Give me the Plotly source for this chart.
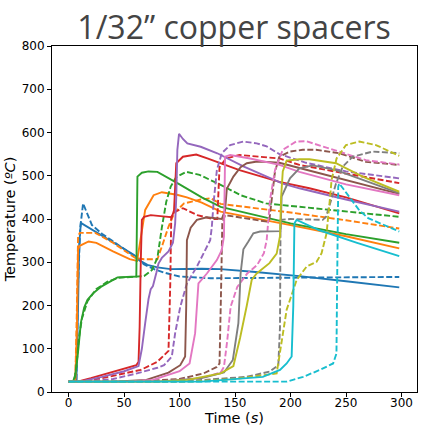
import plotly.graph_objects as go

# ---- data (time in s, temperature in degC) ----
t_blue_s = [0, 7, 8.5, 9.5, 11, 30, 45, 59, 65, 71, 80, 92, 120, 137, 166, 208, 250, 298]
T_blue_s = [24, 26, 200, 340, 391, 362, 339, 317, 303, 294, 288, 284, 285, 284, 278, 268, 256, 242]
t_blue_d = [0, 7, 8.5, 10.5, 13, 17, 21, 30, 45, 59, 68, 78, 86, 100, 128, 200, 298]
T_blue_d = [24, 26, 250, 380, 436, 410, 386, 366, 340, 315, 295, 283, 276, 267, 263, 265, 266]

t_orange_s = [0, 6, 7.5, 8.5, 10, 18, 25, 40, 55, 61.7, 64.7, 69, 76.6, 84, 97.6, 106.6, 120, 137, 200, 250, 298]
T_orange_s = [24, 26, 150, 330, 338, 348, 345, 325, 307, 303, 351, 421, 455, 462, 456, 450, 438, 417, 386, 360, 332]
t_orange_d = [0, 6, 7.5, 8.5, 10, 24, 40, 60, 68, 80, 84, 90, 95, 104, 119, 128, 137, 200, 250, 298]
T_orange_d = [24, 26, 200, 360, 368, 368, 345, 310, 307, 307, 336, 382, 413, 436, 445, 448, 435, 415, 397, 378]

t_green_s = [0, 4, 6, 8, 11, 14, 17, 22, 29, 39, 44, 61, 61.5, 62, 66, 72, 80, 90, 100, 120, 137, 200, 250, 298]
T_green_s = [24, 24, 40, 80, 160, 195, 213, 228, 243, 259, 265, 267, 400, 498, 507, 510, 509, 495, 480, 450, 428, 390, 365, 345]
t_green_d = [0, 5, 7, 9, 12, 17, 25, 35, 45, 62, 68, 75, 80, 84, 88, 92, 97, 106, 118, 137, 155, 178, 208, 250, 298]
T_green_d = [24, 24, 60, 120, 170, 210, 238, 255, 264, 266, 268, 282, 310, 380, 440, 475, 497, 509, 502, 479, 455, 436, 428, 418, 405]

t_red_s = [0, 8, 20, 40, 55, 61, 63, 64, 65, 66, 68, 74, 85, 93, 95, 96, 97, 103, 115, 125, 154, 190, 217, 250, 298]
T_red_s = [24, 24, 32, 46, 56, 62, 70, 150, 300, 398, 405, 409, 406, 404, 420, 500, 529, 544, 549, 540, 513, 486, 471, 450, 413]
t_red_d = [0, 10, 30, 50, 65, 80, 87, 90, 91.6, 92.5, 96, 103, 116, 130, 134, 135, 136, 142, 154, 190, 208, 250, 298]
T_red_d = [24, 24, 32, 42, 51, 70, 86, 95, 250, 405, 417, 425, 409, 400, 400, 470, 520, 540, 548, 540, 525, 505, 483]

t_purple_s = [0, 10, 30, 50, 63, 66, 69, 72, 74, 76, 79, 81, 84, 90, 94, 96, 97, 98, 99.5, 103, 107, 119, 134, 158, 193, 208, 250, 298]
T_purple_s = [24, 24, 35, 48, 60, 100, 159, 215, 238, 245, 275, 297, 310, 325, 345, 390, 450, 560, 597, 585, 575, 567, 552, 521, 482, 471, 445, 417]
t_purple_d = [0, 15, 40, 60, 80, 86, 93, 96, 100.6, 106.6, 115.6, 124.6, 127.6, 129, 130.6, 133.6, 138, 145.6, 157.5, 169.5, 178.5, 190, 214, 250, 298]
T_purple_d = [24, 24, 30, 42, 56, 62, 82, 136, 197, 251, 290, 336, 351, 380, 436, 513, 552, 571, 579, 575, 568, 550, 530, 510, 494]

t_brown_s = [0, 40, 70, 90, 100.6, 105, 106, 106.6, 110, 115.6, 124.6, 138, 141, 142.6, 148.5, 155, 160.6, 170, 178.5, 190, 208, 250, 298]
T_brown_s = [24, 24, 28, 45, 62, 82, 200, 351, 380, 398, 404, 400, 420, 470, 498, 520, 529, 533, 532, 530, 518, 490, 458]
t_brown_d = [0, 60, 100, 121.6, 133.6, 136, 137.5, 138.5, 141, 160, 178.5, 181, 183, 186, 190, 199.5, 211, 223, 244, 268, 298]
T_brown_d = [24, 24, 30, 43, 58, 66, 250, 390, 409, 402, 394, 400, 450, 510, 544, 556, 560, 560, 552, 532, 525]

t_pink_s = [0, 50, 76, 100, 109, 114, 117, 124.6, 133.6, 138, 140, 141, 145.6, 163.5, 190, 208, 250, 298]
T_pink_s = [24, 24, 28, 48, 66, 136, 251, 274, 305, 328, 360, 544, 548, 540, 525, 509, 480, 455]
t_pink_d = [0, 80, 120, 137, 140, 143, 146, 152, 161, 170, 176, 178.5, 181.5, 186, 193, 205, 214, 238, 268, 298]
T_pink_d = [24, 24, 32, 45, 58, 120, 197, 243, 274, 294, 321, 351, 444, 513, 560, 579, 580, 560, 536, 526]

t_gray_s = [0, 80, 120, 140, 148, 153, 155, 157.5, 162, 166.5, 172.5, 191, 192, 199.5, 208, 220, 241, 265, 298]
T_gray_s = [24, 24, 32, 45, 74, 159, 274, 330, 348, 367, 371, 372, 452, 494, 517, 524, 513, 490, 460]
t_gray_d = [0, 100, 160, 181, 189, 190.5, 191, 200, 229, 232, 235, 241, 247, 256, 274, 298]
T_gray_d = [24, 24, 35, 47, 62, 150, 398, 400, 398, 405, 430, 482, 521, 544, 556, 552]

t_olive_s = [0, 80, 107, 137, 148.5, 154.5, 160.6, 165, 169.5, 175.5, 181, 187.5, 190.5, 191.5, 193, 196.5, 208, 217, 241, 265, 298]
T_olive_s = [24, 24, 28, 43, 60, 125, 200, 259, 274, 286, 298, 320, 360, 450, 510, 535, 538, 538, 529, 498, 463]
t_olive_d = [0, 110, 150, 187.5, 196.5, 205.5, 214.5, 223.5, 228, 232.5, 235.4, 237, 241.5, 250, 262, 277, 298]
T_olive_d = [24, 24, 30, 43, 190, 259, 290, 301, 321, 367, 444, 490, 540, 571, 579, 571, 546]

t_cyan_s = [0, 120, 175, 190.5, 196.5, 201, 202.5, 203.5, 205.5, 226, 260, 298]
T_cyan_s = [24, 24, 35, 51, 66, 82, 200, 390, 398, 374, 345, 314]
t_cyan_d = [0, 196.5, 211.4, 226.4, 238.4, 241.4, 242, 243, 244, 253, 262, 270, 285, 298]
T_cyan_d = [24, 24, 35, 51, 66, 89, 250, 475, 482, 452, 420, 402, 385, 371]

x_ticks = [0, 50, 100, 150, 200, 250, 300]
y_ticks = [0, 100, 200, 300, 400, 500, 600, 700, 800]

series = [
    ("#1f77b4", t_blue_s, T_blue_s, t_blue_d, T_blue_d),
    ("#ff7f0e", t_orange_s, T_orange_s, t_orange_d, T_orange_d),
    ("#2ca02c", t_green_s, T_green_s, t_green_d, T_green_d),
    ("#d62728", t_red_s, T_red_s, t_red_d, T_red_d),
    ("#9467bd", t_purple_s, T_purple_s, t_purple_d, T_purple_d),
    ("#8c564b", t_brown_s, T_brown_s, t_brown_d, T_brown_d),
    ("#e377c2", t_pink_s, T_pink_s, t_pink_d, T_pink_d),
    ("#7f7f7f", t_gray_s, T_gray_s, t_gray_d, T_gray_d),
    ("#bcbd22", t_olive_s, T_olive_s, t_olive_d, T_olive_d),
    ("#17becf", t_cyan_s, T_cyan_s, t_cyan_d, T_cyan_d),
]

fig = go.Figure()
for color, ts, Ts, td, Td in series:
    fig.add_trace(go.Scatter(x=ts, y=Ts, mode="lines", showlegend=False,
                             line=dict(color=color, width=1.9)))
    fig.add_trace(go.Scatter(x=td, y=Td, mode="lines", showlegend=False,
                             line=dict(color=color, width=1.9, dash="6px,2.5px")))

axis_common = dict(showline=True, mirror=True, linecolor="black", linewidth=1,
                   ticks="outside", ticklen=4, tickwidth=1, tickcolor="black",
                   showgrid=False, zeroline=False,
                   tickfont=dict(family="DejaVu Sans", size=12, color="black"))

fig.update_xaxes(range=[-15, 314], tickvals=x_ticks, ticklabelstandoff=-4,
                 title=dict(text="Time (<i>s</i>)", font=dict(family="DejaVu Sans", size=14.5, color="black"),
                            standoff=0),
                 **axis_common)
fig.update_yaxes(range=[0, 800], tickvals=y_ticks,
                 title=dict(text="Temperature (<i>ºC</i>)", font=dict(family="DejaVu Sans", size=14.5, color="black"),
                            standoff=2),
                 **axis_common)

fig.update_layout(
    width=424, height=433,
    margin=dict(l=52, r=7, t=46, b=41),
    paper_bgcolor="white", plot_bgcolor="white",
    title=dict(text="1/32” copper spacers", x=0.552, xanchor="center", y=0.935, yanchor="middle",
               font=dict(family="Open Sans", size=32, color="#444444")),
)

fig.write_html("out.html")
